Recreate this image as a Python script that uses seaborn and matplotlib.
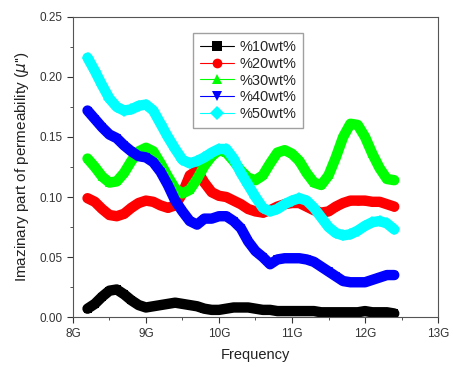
import matplotlib
matplotlib.use("Agg")
import matplotlib.pyplot as plt
import matplotlib.ticker as mticker
import pandas as pd
import seaborn as sns

freq = [8.2, 8.3, 8.4, 8.5, 8.6, 8.7, 8.8, 8.9, 9.0, 9.1, 9.2, 9.3, 9.4, 9.5, 9.6,
        9.7, 9.8, 9.9, 10.0, 10.1, 10.2, 10.3, 10.4, 10.5, 10.6, 10.7, 10.8, 10.9,
        11.0, 11.1, 11.2, 11.3, 11.4, 11.5, 11.6, 11.7, 11.8, 11.9, 12.0, 12.1,
        12.2, 12.3, 12.4]

wt10 = [0.007, 0.011, 0.017, 0.022, 0.023, 0.019, 0.014, 0.010, 0.008, 0.009, 0.010,
        0.011, 0.012, 0.011, 0.010, 0.009, 0.007, 0.006, 0.006, 0.007, 0.008, 0.008,
        0.008, 0.007, 0.006, 0.006, 0.005, 0.005, 0.005, 0.005, 0.005, 0.005, 0.004,
        0.004, 0.004, 0.004, 0.004, 0.004, 0.005, 0.004, 0.004, 0.004, 0.003]
wt20 = [0.099, 0.096, 0.090, 0.085, 0.084, 0.086, 0.091, 0.095, 0.097, 0.096, 0.093,
        0.091, 0.093, 0.103, 0.118, 0.122, 0.112, 0.104, 0.101, 0.100, 0.097, 0.094,
        0.090, 0.088, 0.087, 0.089, 0.092, 0.094, 0.095, 0.095, 0.092, 0.089, 0.087,
        0.088, 0.092, 0.095, 0.097, 0.097, 0.097, 0.096, 0.096, 0.094, 0.092]
wt30 = [0.132, 0.125, 0.117, 0.112, 0.113, 0.120, 0.130, 0.138, 0.141, 0.138, 0.128,
        0.117, 0.107, 0.103, 0.106, 0.115, 0.126, 0.134, 0.139, 0.137, 0.130, 0.122,
        0.116, 0.114, 0.118, 0.128, 0.137, 0.139, 0.136, 0.130, 0.120, 0.112, 0.110,
        0.118, 0.133, 0.150, 0.161, 0.160, 0.150, 0.136, 0.124, 0.115, 0.114]
wt40 = [0.172, 0.165, 0.158, 0.152, 0.149, 0.143, 0.138, 0.134, 0.133, 0.129, 0.121,
        0.110, 0.097, 0.088, 0.080, 0.077, 0.082, 0.082, 0.084, 0.084, 0.080, 0.074,
        0.063, 0.055, 0.050, 0.044, 0.048, 0.049, 0.049, 0.049, 0.048, 0.046, 0.042,
        0.038, 0.034, 0.030, 0.029, 0.029, 0.029, 0.031, 0.033, 0.035, 0.035]
wt50 = [0.216, 0.205, 0.193, 0.182, 0.175, 0.172, 0.173, 0.176, 0.177, 0.172, 0.161,
        0.150, 0.140, 0.131, 0.128, 0.130, 0.133, 0.137, 0.140, 0.140, 0.132, 0.120,
        0.110, 0.100, 0.091, 0.088, 0.090, 0.094, 0.097, 0.099, 0.097, 0.091, 0.083,
        0.075, 0.070, 0.068, 0.069, 0.072, 0.076, 0.079, 0.080, 0.078, 0.073]

labels = ["%10wt%", "%20wt%", "%30wt%", "%40wt%", "%50wt%"]
colors = ["#000000", "#ff0000", "#00ff00", "#0000ff", "#00ffff"]
markers = ["s", "o", "^", "v", "D"]
xtick_labels = ["8G", "9G", "10G", "11G", "12G", "13G"]

df = pd.DataFrame({"Frequency": freq})
for lab, vals in zip(labels, [wt10, wt20, wt30, wt40, wt50]):
    df[lab] = vals
df_melt = df.melt(id_vars=["Frequency"], var_name="Sample", value_name="Value")

sns.set_style("white")
plt.rcParams["font.family"] = ["Liberation Sans", "DejaVu Sans"]

fig = plt.figure(figsize=(4.53, 3.67), dpi=100)
ax = fig.add_axes([0.161, 0.136, 0.806, 0.818])

sns.lineplot(df_melt, x="Frequency", y="Value", hue="Sample", style="Sample",
             palette=colors, markers=markers, dashes=False, linewidth=7.5,
             markersize=6, markeredgewidth=0, ax=ax)

ax.set_xlim(8, 13)
ax.set_ylim(0, 0.25)
ax.set_xticks(range(8, 14))
ax.set_xticklabels(xtick_labels)
ax.xaxis.set_minor_locator(mticker.MultipleLocator(0.5))
ax.yaxis.set_major_locator(mticker.MultipleLocator(0.05))
ax.yaxis.set_minor_locator(mticker.MultipleLocator(0.025))
ax.yaxis.set_major_formatter(mticker.FormatStrFormatter("%.2f"))
ax.tick_params(which="major", direction="out", length=4, width=0.8, color="#333333",
               labelsize=8.5, labelcolor="#333333", bottom=True, left=True)
ax.tick_params(which="minor", direction="out", length=2, width=0.6, color="#333333",
               bottom=True, left=True)
for s in ax.spines.values():
    s.set_color("#555555")
    s.set_linewidth(0.8)

ax.set_xlabel("Frequency", fontsize=10.5, color="#222222", labelpad=6)
ax.set_ylabel("Imazinary part of permeability ($\\mu$'')", fontsize=11,
              color="#222222", labelpad=6)

leg = ax.legend(loc="upper left", bbox_to_anchor=(0.31, 0.97), fontsize=10.5,
                frameon=True, fancybox=False, edgecolor="#888888",
                handlelength=2.3, borderpad=0.45, labelspacing=0.2,
                handletextpad=0.4)
for h in leg.get_lines():
    h.set_linewidth(0.8)
    h.set_markersize(7)

plt.savefig("out.png", dpi=100)
